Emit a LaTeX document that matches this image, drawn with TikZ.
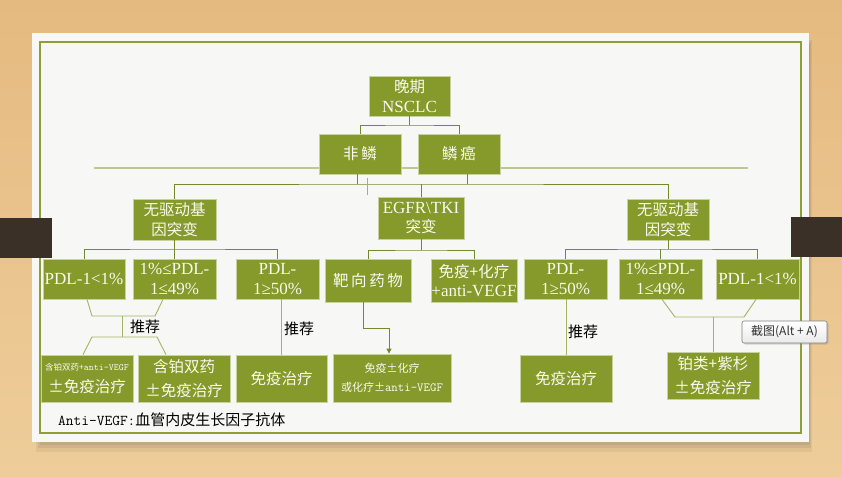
\documentclass[tikz,border=0pt]{standalone}
\usepackage{fontspec}
\setmainfont{Liberation Serif}
\newfontfamily\cjk{Noto Sans CJK SC}
\usetikzlibrary{arrows.meta,shadows}
\definecolor{olivebox}{HTML}{86992B}
\definecolor{boxedge}{HTML}{C9D29E}
\definecolor{boxtext}{HTML}{FAFAEE}
\definecolor{connc}{HTML}{76892A}
\definecolor{lconnc}{HTML}{A3B464}
\definecolor{longc}{HTML}{BDC891}
\definecolor{framec}{HTML}{8E9F36}
\definecolor{tabc}{HTML}{3B3028}
\definecolor{paperc}{HTML}{F7F7F5}
\definecolor{woodtop}{HTML}{E5BA80}
\definecolor{woodbot}{HTML}{EECD9A}
\newcommand\zh[1]{{\cjk\fontsize{15.5}{19.5}\selectfont #1}}
\begin{document}
\begin{tikzpicture}[x=1pt,y=-1pt,
  box/.style={draw=boxedge, line width=0.8pt, fill=olivebox, text=boxtext,
    inner sep=0pt, align=center, font=\fontsize{17}{19.5}\selectfont},
  sz/.style 2 args={minimum width=#1pt, minimum height=#2pt},
  conn/.style={draw=connc, line width=1pt},
  lconn/.style={draw=lconnc, line width=0.9pt},
  rec/.style={text=black, inner sep=0pt, font=\cjk\fontsize{15}{17}\selectfont}]
\useasboundingbox (0,0) rectangle (842,476);
% background
\shade[top color=woodtop, bottom color=woodbot] (0,0) rectangle (842,476);
\fill[black, opacity=0.06] (36,40) rectangle (812,452);
\fill[black, opacity=0.06] (38,42) rectangle (811,448);
\fill[black, opacity=0.06] (40,44) rectangle (810,445);
\fill[paperc] (32,33) rectangle (809,442);
\draw[framec, line width=1.1pt] (40,42) rectangle (801,433);
% long light line
\draw[longc, line width=2.5pt] (94,168) -- (748,168);

% nodes
\node[box, sz={81}{40}] (N0) at (409.5,96) {\zh{晚期}\\NSCLC};
\node[box, sz={82}{40}] (N1) at (360,154) {\zh{非\,鳞}};
\node[box, sz={82}{40}] (N2) at (459,154) {\zh{鳞\,癌}};
\node[box, sz={83}{41}] (L) at (174.5,219.5) {\zh{无驱动基}\\\zh{因突变}};
\node[box, sz={86}{42}] (E) at (421,218) {EGFR\textbackslash TKI\\\zh{突变}};
\node[box, sz={82}{41}] (R) at (668,219.5) {\zh{无驱动基}\\\zh{因突变}};
\node[box, sz={82}{40}] (A1) at (84,279) {PDL-1<1\%};
\node[box, sz={83}{40}] (A2) at (174.5,279) {1\%≤PDL-\\1≤49\%};
\node[box, sz={83}{40}] (A3) at (277.5,279) {PDL-\\1≥50\%};
\node[box, sz={86}{43}] (B1) at (368,280.5) {\zh{靶\,向\,药\,物}};
\node[box, sz={86}{43}] (B2) at (474,280.5) {\zh{免疫+化疗}\\+anti-VEGF};
\node[box, sz={83}{40}] (C1) at (565.5,279) {PDL-\\1≥50\%};
\node[box, sz={83}{40}] (C2) at (660.5,279) {1\%≤PDL-\\1≤49\%};
\node[box, sz={83}{40}] (C3) at (757.5,279) {PDL-1<1\%};
\node[box, sz={92}{47}] (D1) at (87,378.5) {{\cjk\fontsize{8.5}{11}\selectfont 含铂双药+{\ttfamily\fontsize{9.5}{11}\selectfont anti-VEGF}}\\[3pt]\zh{±免疫治疗}};
\node[box, sz={92}{47}] (D2) at (184,378.5) {\zh{含铂双药}\\[5pt]\zh{±免疫治疗}};
\node[box, sz={91}{47}] (D3) at (281.5,378.5) {\zh{免疫治疗}};
\node[box, sz={118}{48}] (D4) at (392,378) {{\cjk\fontsize{11}{19}\selectfont 免疫±化疗}\\{\cjk\fontsize{11}{19}\selectfont 或化疗±{\ttfamily\fontsize{12.5}{19}\selectfont anti-VEGF}}};
\node[box, sz={92}{47}] (F1) at (566,378.5) {\zh{免疫治疗}};
\node[box, sz={92}{47}] (F2) at (713,375.5) {\zh{铂类+紫杉}\\[5pt]\zh{±免疫治疗}};

% top connectors
\coordinate (j0) at (409.5,125);
\draw[conn] (N0.south) -- (j0);
\draw[conn] (N1.north) |- (j0) -| (N2.north);
% level 3
\coordinate (h3) at (0,184);
\coordinate (n1b) at ([xshift=-3pt]N1.south);
\coordinate (n2b) at ([xshift=8pt]N2.south);
\draw[conn] (n1b) -- (n1b |- h3);
\draw[conn] (n2b) -- (n2b |- h3);
\draw[conn] (L.north) |- (h3 -| E.north) -| (R.north);
\draw[conn] (E.north) -- (E.north |- h3);
\draw[lconn] (367,178) -- (367,195);
% level 4
\coordinate (h4) at (0,249);
\coordinate (h4e) at (0,250);
\draw[conn] (A1.north) |- (h4 -| L.south) -| (A3.north);
\draw[conn] (L.south) -- (A2.north);
\draw[conn] (B1.north) |- (h4e -| E.south) -| (B2.north);
\draw[conn] (E.south) -- (h4e -| E.south);
\draw[conn] (C1.north) |- (h4 -| R.south) -| (C3.north);
\draw[conn] (R.south) -- (h4 -| R.south);
\draw[conn] (C2.north) -- (h4 -| C2.north);
% left bracket
\coordinate (bl1) at (92,316);
\coordinate (bl2) at (155,316);
\coordinate (bm1) at (122,316);
\coordinate (bm2) at (122,337);
\coordinate (bl3) at (92,337);
\coordinate (bl4) at (157,337);
\draw[lconn] ([xshift=3pt]A1.south) -- (bl1) -- (bl2) -- ([xshift=-11.5pt]A2.south);
\draw[lconn] (bm1) -- (bm2);
\draw[lconn] ([xshift=-4pt]D1.north) -- (bl3) -- (bl4) -- ([xshift=-18pt]D2.north);
\node[rec, anchor=west] (rec1) at (130,327) {推荐};
% middle
\draw[lconn] (D3.north |- A3.south) -- (D3.north);
\node[rec, anchor=west] (rec2) at (284,329) {推荐};
\coordinate (k) at (389,328);
\coordinate (b1b) at ([xshift=-5pt]B1.south);
\draw[conn, -{Triangle[length=5pt,width=5pt]}] (b1b) |- (k) -- (k |- D4.north);
% right
\draw[lconn] (F1.north |- C1.south) -- (F1.north);
\node[rec, anchor=west] (rec3) at (568,332) {推荐};
\coordinate (br1) at (675,317);
\coordinate (br2) at (744,317);
\draw[lconn] ([xshift=1.5pt]C2.south) -- (br1) -- (br2) -- ([xshift=-1.5pt]C3.south);
\draw[lconn] (F2.north |- br1) -- (F2.north);

% tabs
\fill[tabc] (0,218) rectangle (52,258);
\fill[tabc] (791,217) rectangle (842,257);

% tooltip
\node[draw=black!50, line width=0.6pt, rounded corners=2pt, top color=white, bottom color=black!8,
  drop shadow={shadow xshift=1.5pt, shadow yshift=-1.5pt, opacity=0.3},
  minimum width=85pt, minimum height=22pt, inner sep=0pt, text=black!80,
  font=\cjk\fontsize{12}{14}\selectfont] (tip) at (784.5,332) {截图(Alt + A)};

% note
\node[anchor=west, inner sep=0pt, text=black] (note) at (58,420)
  {\ttfamily\fontsize{15}{15}\selectfont Anti-VEGF:{\cjk\fontsize{15}{15}\selectfont 血管内皮生长因子抗体}};
\end{tikzpicture}
\end{document}
